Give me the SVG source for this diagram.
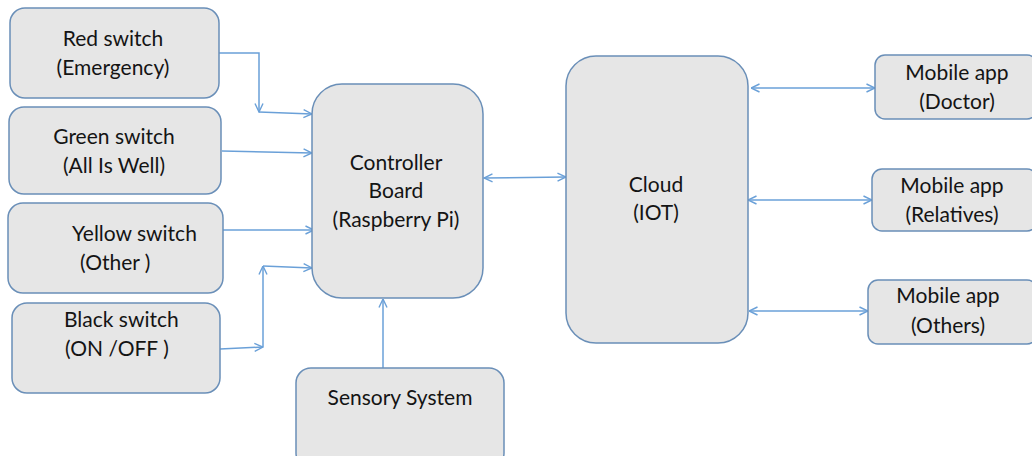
<svg xmlns="http://www.w3.org/2000/svg" width="1032" height="456" viewBox="0 0 1032 456">
<style>
.box{fill:#e6e6e6;stroke:#6a8fb8;stroke-width:1.5}
.t{font-family:Lato,"Liberation Sans",sans-serif;font-size:21px;fill:#141414;text-anchor:middle}
.l{text-anchor:start}
.c{fill:none;stroke:#6aa0d8;stroke-width:1.5}
</style>
<defs>
<marker id="a" viewBox="0 0 10 10" refX="9.5" refY="5" markerWidth="10" markerHeight="10" markerUnits="userSpaceOnUse" orient="auto-start-reverse">
<path d="M1,1 L9.5,5 L1,9" fill="none" stroke="#6aa0d8" stroke-width="1.4"/>
</marker>
</defs>
<rect width="1032" height="456" fill="#fff"/>
<g id="connectors">
<path class="c" d="M219,53 H259 V112" marker-end="url(#a)"/>
<path class="c" d="M259,112 L312,114" marker-end="url(#a)"/>
<path class="c" d="M222,151 L312,153" marker-end="url(#a)"/>
<path class="c" d="M223,230 L314,230" marker-end="url(#a)"/>
<path class="c" d="M220,349 L263,347" marker-end="url(#a)"/>
<path class="c" d="M263,347 V266" marker-end="url(#a)"/>
<path class="c" d="M263,266 L312,268" marker-end="url(#a)"/>
<path class="c" d="M484,178 L566,177" marker-start="url(#a)" marker-end="url(#a)"/>
<path class="c" d="M383,368 V299" marker-end="url(#a)"/>
<path class="c" d="M751,88 H875" marker-start="url(#a)" marker-end="url(#a)"/>
<path class="c" d="M748,200 H872" marker-start="url(#a)" marker-end="url(#a)"/>
<path class="c" d="M749,311 H868" marker-start="url(#a)" marker-end="url(#a)"/>
</g>
<g id="red">
<rect class="box" x="10" y="8" width="209" height="90" rx="15"/>
<text class="t" x="113" y="46">Red switch</text>
<text class="t" x="113" y="75">(Emergency)</text>
</g>
<g id="green">
<rect class="box" x="9" y="107" width="212" height="87" rx="15"/>
<text class="t" x="114" y="144">Green switch</text>
<text class="t" x="114" y="173">(All Is Well)</text>
</g>
<g id="yellow">
<rect class="box" x="8" y="203" width="215" height="90" rx="15"/>
<text class="t l" x="72" y="241">Yellow switch</text>
<text class="t l" x="80" y="270">(Other )</text>
</g>
<g id="black">
<rect class="box" x="12" y="303" width="208" height="90" rx="15"/>
<text class="t l" x="64" y="327">Black switch</text>
<text class="t l" x="65" y="356">(ON /OFF )</text>
</g>
<g id="controller">
<rect class="box" x="312" y="84" width="171" height="214" rx="30"/>
<text class="t" x="396" y="170">Controller</text>
<text class="t" x="396" y="198">Board</text>
<text class="t" x="396" y="227">(Raspberry Pi)</text>
</g>
<g id="cloud">
<rect class="box" x="566" y="56" width="182" height="287" rx="30"/>
<text class="t" x="656" y="192">Cloud</text>
<text class="t" x="656" y="220">(IOT)</text>
</g>
<g id="doctor">
<rect class="box" x="875" y="55" width="162" height="64" rx="10"/>
<text class="t" x="957" y="80">Mobile app</text>
<text class="t" x="957" y="109">(Doctor)</text>
</g>
<g id="relatives">
<rect class="box" x="872" y="169" width="165" height="62" rx="10"/>
<text class="t" x="952" y="193">Mobile app</text>
<text class="t" x="952" y="222">(Relatives)</text>
</g>
<g id="others">
<rect class="box" x="868" y="280" width="169" height="64" rx="10"/>
<text class="t" x="948" y="303">Mobile app</text>
<text class="t" x="948" y="333">(Others)</text>
</g>
<g id="sensory">
<rect class="box" x="296" y="368" width="208" height="100" rx="15"/>
<text class="t" x="400" y="405">Sensory System</text>
</g>
</svg>
